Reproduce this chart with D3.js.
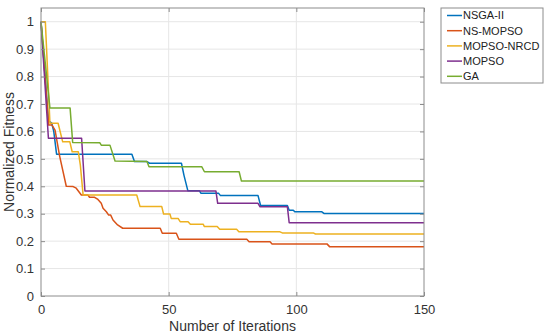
<!DOCTYPE html>
<html>
<head>
<meta charset="utf-8">
<script src="https://cdn.jsdelivr.net/npm/d3@7"></script>
<style>
  body { margin: 0; background: #fff; }
  svg { font-family: "Liberation Sans", Arial, sans-serif; }
</style>
</head>
<body>
<div class="chart"></div>
<script>
// series names and colours (MATLAB default order)
const seriesNames = ['NSGA-II', 'NS-MOPSO', 'MOPSO-NRCD', 'MOPSO', 'GA'];
const seriesColors = ['#0072BD', '#D95319', '#EDB120', '#7E2F8E', '#77AC30'];

// vertices [iteration, fitness]
const nsga2 = [[0,1],[2.9,0.64],[4.2,0.63],[5,0.6],[6.1,0.517],[35.6,0.517],[36.6,0.49],[41.5,0.49],[42.5,0.484],[55,0.484],[56,0.44],[57.5,0.384],[62,0.384],[62.6,0.375],[69.5,0.375],[70.3,0.366],[85,0.366],[86,0.33],[96.5,0.33],[97.2,0.313],[98.8,0.313],[99.4,0.307],[110,0.307],[110.8,0.301],[150,0.301]];
const nsMopso = [[0,1],[3,0.623],[4.3,0.623],[5.5,0.605],[7.3,0.51],[9.9,0.4],[12.6,0.399],[13.8,0.393],[15.8,0.368],[18.4,0.368],[19,0.36],[21,0.36],[22.3,0.352],[23.6,0.338],[24.3,0.32],[25.6,0.307],[26.5,0.295],[27.3,0.295],[28.2,0.277],[30,0.259],[32,0.247],[46.7,0.247],[47.5,0.229],[53,0.229],[54,0.207],[80.6,0.207],[81.5,0.198],[89.7,0.198],[90.5,0.19],[112,0.19],[113,0.18],[150,0.18]];
const mopsoNrcd = [[0,1],[1.7,1],[3.5,0.63],[6.7,0.63],[8.5,0.562],[11.3,0.562],[12.2,0.526],[14.6,0.526],[15.4,0.478],[16.5,0.368],[37.5,0.368],[38.8,0.326],[47.3,0.326],[48,0.299],[50.5,0.299],[51,0.283],[53.7,0.283],[54.5,0.271],[57.6,0.271],[58.5,0.262],[63.5,0.262],[64,0.253],[69,0.253],[70,0.243],[76.6,0.243],[77.5,0.234],[93.6,0.234],[94.5,0.23],[106.6,0.23],[107.5,0.226],[150,0.226]];
const mopso = [[0,1],[2.9,0.575],[15.9,0.575],[17.2,0.383],[68.5,0.383],[69.2,0.338],[85,0.338],[85.8,0.325],[96.5,0.325],[97.2,0.267],[150,0.267]];
const ga = [[0,1],[3.5,0.685],[11.4,0.685],[12.4,0.56],[23,0.559],[23.6,0.55],[27,0.55],[29,0.492],[41.5,0.49],[42.3,0.471],[63,0.471],[64,0.453],[77.6,0.453],[78.5,0.419],[150,0.419]];

const allSeries = [nsga2, nsMopso, mopsoNrcd, mopso, ga];

// tick values
const xTicks = [0, 50, 100, 150];
const yTicks = [0, 0.1, 0.2, 0.3, 0.4, 0.5, 0.6, 0.7, 0.8, 0.9, 1];

const width = 550;
const height = 336;
const plot = {left: 41, right: 424, top: 8, bottom: 296};

const svg = d3.select('.chart')
  .append('svg')
  .attr('width', width)
  .attr('height', height);

const x = d3.scaleLinear().domain([0, 150]).range([plot.left, plot.right]);
const y = d3.scaleLinear().domain([0, 1.05]).range([plot.bottom, plot.top]);

// grid lines
svg.append('g')
  .selectAll('line')
  .data(xTicks.slice(1, -1))
  .enter()
  .append('line')
  .attr('x1', d => x(d)).attr('x2', d => x(d))
  .attr('y1', plot.top).attr('y2', plot.bottom)
  .style('stroke', '#e6e6e6');

svg.append('g')
  .selectAll('line')
  .data(yTicks.slice(1))
  .enter()
  .append('line')
  .attr('x1', plot.left).attr('x2', plot.right)
  .attr('y1', d => y(d)).attr('y2', d => y(d))
  .style('stroke', '#e6e6e6');

// the series
const line = d3.line()
  .x(d => x(d[0]))
  .y(d => y(d[1]));

svg.append('g')
  .selectAll('path')
  .data(allSeries)
  .enter()
  .append('path')
  .attr('d', line)
  .style('fill', 'none')
  .style('stroke', (d, i) => seriesColors[i])
  .style('stroke-width', 1.5)
  .style('stroke-linejoin', 'round');

// axes: ticks point inward like MATLAB
const axisColor = '#8c8c8c';
const xAxis = svg.append('g')
  .attr('transform', 'translate(0,' + plot.bottom + ')')
  .call(d3.axisBottom(x).tickValues(xTicks).tickSizeInner(-4).tickSizeOuter(0).tickPadding(9));
const xTop = svg.append('g')
  .attr('transform', 'translate(0,' + plot.top + ')')
  .call(d3.axisTop(x).tickValues(xTicks).tickSizeInner(-4).tickSizeOuter(0).tickFormat(''));
const yAxis = svg.append('g')
  .attr('transform', 'translate(' + plot.left + ',0)')
  .call(d3.axisLeft(y).tickValues(yTicks).tickSizeInner(-4).tickSizeOuter(0).tickPadding(7).tickFormat(d3.format('~g')));
const yRight = svg.append('g')
  .attr('transform', 'translate(' + plot.right + ',0)')
  .call(d3.axisRight(y).tickValues(yTicks).tickSizeInner(-4).tickSizeOuter(0).tickFormat(''));

[xAxis, xTop, yAxis, yRight].forEach(g => {
  g.select('.domain').remove();
  g.selectAll('line').style('stroke', axisColor);
  g.selectAll('text').style('fill', '#333').style('font-size', '13px');
});

// box round the plot
svg.append('rect')
  .attr('x', plot.left).attr('y', plot.top)
  .attr('width', plot.right - plot.left)
  .attr('height', plot.bottom - plot.top)
  .style('fill', 'none')
  .style('stroke', axisColor);

// axis labels
svg.append('text')
  .attr('x', (plot.left + plot.right) / 2)
  .attr('y', 331)
  .attr('text-anchor', 'middle')
  .style('font-size', '14px')
  .style('fill', '#333')
  .text('Number of Iterations');

svg.append('text')
  .attr('transform', 'translate(14,' + (plot.top + plot.bottom) / 2 + ') rotate(-90)')
  .attr('text-anchor', 'middle')
  .style('font-size', '14px')
  .style('fill', '#333')
  .text('Normalized Fitness');

// legend
const legend = svg.append('g').attr('transform', 'translate(441,8)');
legend.append('rect')
  .attr('width', 102).attr('height', 75)
  .style('fill', '#fff')
  .style('stroke', axisColor);

const items = legend.selectAll('g')
  .data(seriesNames)
  .enter()
  .append('g')
  .attr('transform', (d, i) => 'translate(0,' + (7.5 + i * 15.2) + ')');

items.append('line')
  .attr('x1', 6).attr('x2', 21)
  .style('stroke', (d, i) => seriesColors[i])
  .style('stroke-width', 1.5);

items.append('text')
  .attr('x', 22)
  .attr('dy', '0.36em')
  .style('font-size', '11px')
  .style('fill', '#222')
  .text(d => d);
</script>
</body>
</html>
